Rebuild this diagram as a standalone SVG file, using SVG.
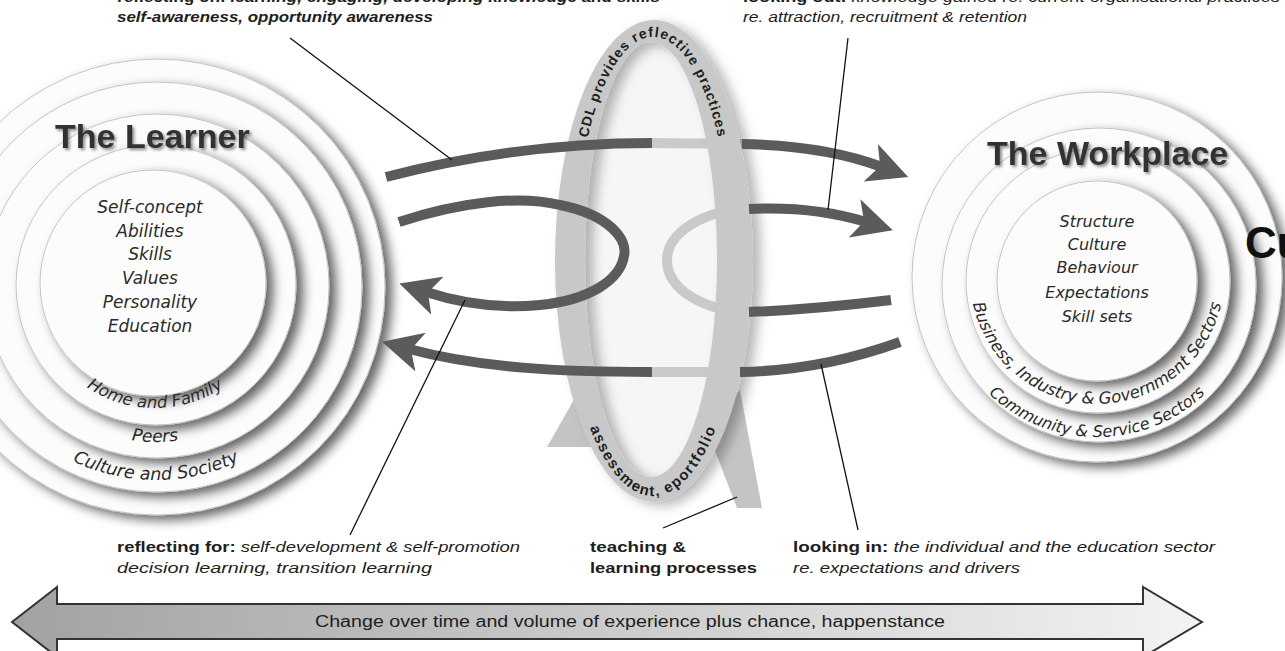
<svg xmlns="http://www.w3.org/2000/svg" width="1285" height="651" viewBox="0 0 1285 651">
<defs>
  <filter id="disc" x="-20%" y="-20%" width="150%" height="150%">
    <feDropShadow dx="7" dy="5" stdDeviation="5.5" flood-color="#000" flood-opacity="0.6"/>
  </filter>
  <filter id="tsh" x="-10%" y="-40%" width="130%" height="190%">
    <feDropShadow dx="2" dy="2" stdDeviation="1.5" flood-color="#000" flood-opacity="0.45"/>
  </filter>
  <filter id="ringsh" x="-30%" y="-10%" width="160%" height="125%">
    <feDropShadow dx="8" dy="4" stdDeviation="6" flood-color="#000" flood-opacity="0.28"/>
  </filter>
  <linearGradient id="bandfill" x1="0" x2="1" y1="0" y2="0">
    <stop offset="0" stop-color="#a2a2a2"/>
    <stop offset="1" stop-color="#f3f3f3"/>
  </linearGradient>
  <marker id="head" viewBox="0 0 40 40" refX="12" refY="20" markerWidth="40" markerHeight="40" markerUnits="userSpaceOnUse" orient="auto">
    <path d="M0,0 L40,20 L0,40 L10,20 Z" fill="#5b5b5b"/>
  </marker>
  <path id="pHome" d="M48.5,346.5 A123,123 0 0 0 261.5,346.5"/>
  <path id="pPeers" d="M19,363.5 A157,157 0 0 0 291,363.5"/>
  <path id="pCult" d="M-11.1,383.5 A193,193 0 0 0 323.1,383.5"/>
  <path id="pBus" d="M970.5,288.1 A127,127 0 0 0 1223.5,288.1"/>
  <path id="pComm" d="M976.7,380.9 A157,157 0 0 0 1217.3,380.9"/>
  <path id="pCDL" d="M588,137 A78,224 0 0 1 718,137"/>
  <path id="pAss" d="M579.3,395.4 A90,236 0 0 0 726.7,395.4"/>
</defs>
<style>
  .disc{fill:#fcfcfc;stroke:#c4c4c4;stroke-width:1;filter:url(#disc)}
  .title{font-family:"Liberation Sans",Arial,sans-serif;font-weight:bold;font-size:34px;fill:#333;filter:url(#tsh)}
  .item{font-family:"DejaVu Sans",sans-serif;font-style:italic;font-size:17px;fill:#2a2a2a;text-anchor:middle}
  .band{font-family:"DejaVu Sans",sans-serif;font-style:italic;font-size:16.5px;fill:#2a2a2a}
  .lbl{font-family:"Liberation Sans",Arial,sans-serif;font-size:15.5px;fill:#1e1e1e}
  .b{font-weight:bold}
  .i{font-style:italic}
  .mtxt{font-family:"Liberation Sans",Arial,sans-serif;font-weight:bold;fill:#1e1e1e}
  .dark{fill:none;stroke:#5b5b5b;stroke-width:10}
  .light{fill:none;stroke:#cacaca;stroke-width:10}
  .ptr{fill:none;stroke:#111;stroke-width:1.3}
  .leg{fill:#c4c4c4}
</style>
<rect width="1285" height="651" fill="#fff"/>

<!-- The Learner -->
<g id="learner">
  <circle class="disc" cx="157" cy="287" r="228"/>
  <circle class="disc" cx="157" cy="287" r="205"/>
  <circle class="disc" cx="157" cy="286" r="172"/>
  <circle class="disc" cx="156" cy="285" r="140"/>
  <circle class="disc" cx="153" cy="283" r="113"/>
  <text class="title" x="55" y="148">The Learner</text>
  <text class="item" x="150" y="213">Self-concept</text>
  <text class="item" x="150" y="237">Abilities</text>
  <text class="item" x="150" y="260">Skills</text>
  <text class="item" x="150" y="284">Values</text>
  <text class="item" x="150" y="308">Personality</text>
  <text class="item" x="150" y="332">Education</text>
  <text class="band"><textPath href="#pHome" startOffset="50%" text-anchor="middle">Home and Family</textPath></text>
  <text class="band" style="font-size:17px"><textPath href="#pPeers" startOffset="50%" text-anchor="middle">Peers</textPath></text>
  <text class="band" style="font-size:17.5px"><textPath href="#pCult" startOffset="50%" text-anchor="middle">Culture and Society</textPath></text>
</g>

<!-- The Workplace -->
<g id="workplace">
  <circle class="disc" cx="1097" cy="277" r="185"/>
  <circle class="disc" cx="1099" cy="285" r="157"/>
  <circle class="disc" cx="1098" cy="281" r="132"/>
  <circle class="disc" cx="1097" cy="281" r="100"/>
  <text class="title" x="987" y="165">The Workplace</text>
  <text class="item" style="font-size:16px" x="1097" y="227">Structure</text>
  <text class="item" style="font-size:16px" x="1097" y="250">Culture</text>
  <text class="item" style="font-size:16px" x="1097" y="273">Behaviour</text>
  <text class="item" style="font-size:16px" x="1097" y="298">Expectations</text>
  <text class="item" style="font-size:16px" x="1097" y="322">Skill sets</text>
  <text class="band" style="font-size:16.5px"><textPath href="#pBus" startOffset="50%" text-anchor="middle">Business, Industry &amp; Government Sectors</textPath></text>
  <text class="band" style="font-size:16px"><textPath href="#pComm" startOffset="50%" text-anchor="middle">Community &amp; Service Sectors</textPath></text>
  <text x="1245" y="258" style="font-family:'Liberation Sans',Arial,sans-serif;font-weight:bold;font-size:44px;fill:#111">Cu</text>
</g>

<!-- The mirror (CDL) -->
<g id="mirror">
  <polygon class="leg" points="547,447 576,396 604,396 600,447"/>
  <polygon class="leg" points="705,425 740,390 762,508 737,508"/>
  <ellipse cx="651" cy="259.5" rx="66" ry="217.5" fill="#f6f6f6"/>
</g>

<!-- connectors -->
<g id="connectors">
  <path class="light" d="M650,143 L745,144"/>
  <path class="light" d="M752,209 C705,209 667,232 667,260 C667,290 705,312 752,312"/>
  <path class="light" d="M744,372 L650,372"/>
  <path id="ring" d="M555,261 A99,241 0 1 0 753,261 A99,241 0 1 0 555,261 Z M585,259.5 A66,217.5 0 1 0 717,259.5 A66,217.5 0 1 0 585,259.5 Z" fill="#c8c8c8" fill-rule="evenodd" filter="url(#ringsh)"/>
  <path class="dark" d="M386,177 C470,155 560,143 652,143"/>
  <path class="dark" d="M742,144 C800,145 845,153 882,167" marker-end="url(#head)"/>
  <path class="dark" d="M399,222 C460,202 520,195 560,205 C610,215 628,240 624,256 C620,280 590,300 540,305 C500,309 460,303 426,292" marker-end="url(#head)"/>
  <path class="dark" d="M749,209 C790,207 830,211 866,222" marker-end="url(#head)"/>
  <path class="dark" d="M749,312 C800,310 850,305 891,300"/>
  <path class="dark" d="M900,342 C850,360 800,371 740,372"/>
  <path class="dark" d="M652,372 C560,372 480,368 409,349" marker-end="url(#head)"/>
  <line class="ptr" x1="290" y1="38" x2="452" y2="160"/>
  <line class="ptr" x1="848" y1="38" x2="828" y2="210"/>
  <line class="ptr" x1="350" y1="535" x2="465" y2="300"/>
  <line class="ptr" x1="663" y1="528" x2="737" y2="497"/>
  <line class="ptr" x1="858" y1="530" x2="821" y2="364"/>
</g>

<g id="mirror-labels">
  <text class="mtxt" style="font-size:14px;letter-spacing:1px"><textPath href="#pCDL" startOffset="50%" text-anchor="middle">CDL provides reflective practices</textPath></text>
  <text class="mtxt" style="font-size:15px;letter-spacing:1.5px"><textPath href="#pAss" startOffset="50%" text-anchor="middle">assessment, eportfolio</textPath></text>
</g>

<!-- labels -->
<g id="labels">
  <text class="lbl" x="117" y="2" textLength="543" lengthAdjust="spacingAndGlyphs"><tspan class="b">reflecting on:</tspan><tspan class="i b"> learning, engaging, developing knowledge and skills</tspan></text>
  <text class="lbl b i" x="117" y="22" textLength="316" lengthAdjust="spacingAndGlyphs">self-awareness, opportunity awareness</text>
  <text class="lbl" x="743" y="2" textLength="537" lengthAdjust="spacingAndGlyphs"><tspan class="b">looking out:</tspan><tspan class="i"> knowledge gained re. current organisational practices</tspan></text>
  <text class="lbl i" x="743" y="22" textLength="284" lengthAdjust="spacingAndGlyphs">re. attraction, recruitment &amp; retention</text>
  <text class="lbl" x="117" y="552" textLength="403" lengthAdjust="spacingAndGlyphs"><tspan class="b">reflecting for:</tspan><tspan class="i"> self-development &amp; self-promotion</tspan></text>
  <text class="lbl i" x="117" y="573" textLength="315" lengthAdjust="spacingAndGlyphs">decision learning, transition learning</text>
  <text class="lbl b" x="590" y="552" textLength="96" lengthAdjust="spacingAndGlyphs">teaching &amp;</text>
  <text class="lbl b" x="590" y="573" textLength="167" lengthAdjust="spacingAndGlyphs">learning processes</text>
  <text class="lbl" x="793" y="552" textLength="422" lengthAdjust="spacingAndGlyphs"><tspan class="b">looking in:</tspan><tspan class="i"> the individual and the education sector</tspan></text>
  <text class="lbl i" x="793" y="573" textLength="227" lengthAdjust="spacingAndGlyphs">re. expectations and drivers</text>
</g>

<!-- time arrow -->
<g id="time-arrow">
  <path d="M12,622 L57,587 L57,604 L1143,604 L1143,587 L1202,622 L1143,657 L1143,639 L57,639 L57,657 Z" fill="url(#bandfill)" stroke="#333" stroke-width="2" stroke-linejoin="miter"/>
  <text class="lbl" style="font-size:16px" x="315" y="627" textLength="630" lengthAdjust="spacingAndGlyphs">Change over time and volume of experience plus chance, happenstance</text>
</g>
</svg>
